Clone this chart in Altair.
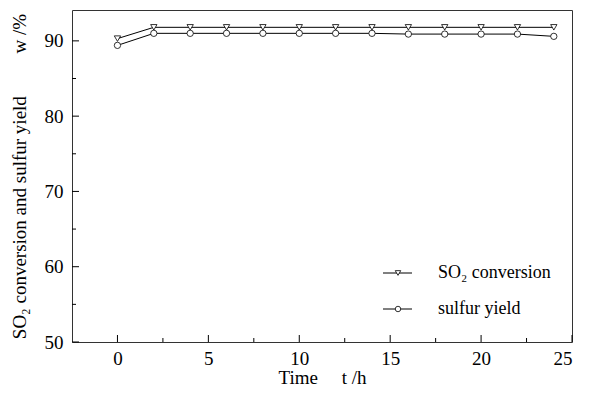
import altair as alt
import pandas as pd

t = [0, 2, 4, 6, 8, 10, 12, 14, 16, 18, 20, 22, 24]
so2_conversion = [90.3, 91.8, 91.8, 91.8, 91.8, 91.8, 91.8, 91.8, 91.8, 91.8, 91.8, 91.8, 91.8]
sulfur_yield = [89.4, 91.0, 91.0, 91.0, 91.0, 91.0, 91.0, 91.0, 90.9, 90.9, 90.9, 90.9, 90.6]
x_major = [0, 5, 10, 15, 20, 25]
x_minor = [2.5, 7.5, 12.5, 17.5, 22.5]
y_major = [50, 60, 70, 80, 90]
y_minor = [55, 65, 75, 85]

W, H = 500, 332
FONT = "Liberation Serif"
NB = "\u00a0"

df = pd.DataFrame({
    "t": t * 2,
    "v": so2_conversion + sulfur_yield,
    "s": ["SO₂ conversion"] * len(t) + ["sulfur yield"] * len(t),
})

xs = alt.Scale(domain=[-2.5, 25], nice=False, zero=False)
ys = alt.Scale(domain=[50, 94.1], nice=False, zero=False)

xaxis = alt.Axis(values=x_major, title="Time" + NB * 5 + "t" + NB + "/h", ticks=False, domain=False, grid=False,
                 labelPadding=7, titlePadding=0, labelFont=FONT, titleFont=FONT)
yaxis = alt.Axis(values=y_major, title="SO₂ conversion and sulfur yield" + NB * 9 + "w" + NB + "/%",
                 ticks=False, domain=False, grid=False, labelPadding=9, titlePadding=15,
                 labelFont=FONT, titleFont=FONT)

base = alt.Chart(df)
lines = base.mark_line(color="black", strokeWidth=1).encode(
    x=alt.X("t:Q", scale=xs, axis=xaxis),
    y=alt.Y("v:Q", scale=ys, axis=yaxis),
    detail="s:N",
)
pts = base.mark_point(filled=True, fill="white", stroke="black", strokeWidth=0.8, size=40, opacity=1).encode(
    x=alt.X("t:Q", scale=xs, axis=xaxis),
    y=alt.Y("v:Q", scale=ys, axis=yaxis),
    shape=alt.Shape("s:N", scale=alt.Scale(domain=["SO₂ conversion", "sulfur yield"],
                                           range=["triangle-down", "circle"]), legend=None),
)

# inward ticks
xmaj = alt.Chart(pd.DataFrame({"x": x_major})).mark_rule(color="black").encode(
    x=alt.X("x:Q", scale=xs, axis=xaxis), y=alt.value(H), y2=alt.value(H - 7))
xmin = alt.Chart(pd.DataFrame({"x": x_minor})).mark_rule(color="black").encode(
    x=alt.X("x:Q", scale=xs, axis=xaxis), y=alt.value(H), y2=alt.value(H - 4))
ymaj = alt.Chart(pd.DataFrame({"y": y_major})).mark_rule(color="black").encode(
    y=alt.Y("y:Q", scale=ys, axis=yaxis), x=alt.value(0), x2=alt.value(7))
ymin = alt.Chart(pd.DataFrame({"y": y_minor})).mark_rule(color="black").encode(
    y=alt.Y("y:Q", scale=ys, axis=yaxis), x=alt.value(0), x2=alt.value(4))

# legend
leg_names = ["SO₂ conversion", "sulfur yield"]
leg_shapes = ["triangle-down", "circle"]
leg_y = [263, 299]
leg = pd.DataFrame({"name": leg_names, "shape": leg_shapes, "py": leg_y})
lchart = alt.Chart(leg)
leg_line = lchart.mark_rule(color="black", strokeWidth=1).encode(
    x=alt.value(311), x2=alt.value(340), y=alt.Y("py:Q", scale=None))
leg_pt = lchart.mark_point(filled=True, fill="white", stroke="black", strokeWidth=0.8, size=30, opacity=1).encode(
    x=alt.value(326), y=alt.Y("py:Q", scale=None),
    shape=alt.Shape("shape:N", scale=None))
leg_txt = lchart.mark_text(align="left", baseline="middle", font=FONT, fontSize=18, color="black").encode(
    x=alt.value(366), y=alt.Y("py:Q", scale=None), text="name:N")

chart = alt.layer(lines, pts, xmaj, xmin, ymaj, ymin, leg_line, leg_pt, leg_txt).properties(
    width=W, height=H,
    autosize=alt.AutoSizeParams(type="none"),
    padding={"left": 72, "top": 10, "right": 17, "bottom": 54},
    background="white",
).configure(font=FONT).configure_view(stroke="#333333", strokeWidth=1).configure_axis(
    labelFont=FONT, labelFontSize=19, labelColor="black",
    titleFont=FONT, titleFontSize=19, titleFontWeight="normal", titleColor="black",
)

chart.save("out.html", embed_options={"renderer": "svg", "actions": False})
